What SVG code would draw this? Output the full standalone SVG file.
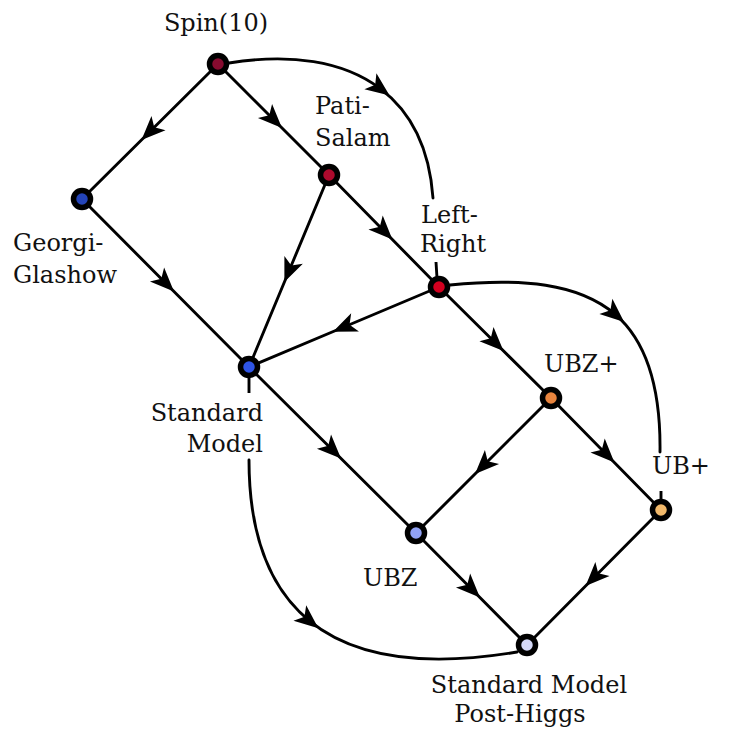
<svg xmlns="http://www.w3.org/2000/svg" width="732" height="730" viewBox="0 0 732 730">
<style>
.e{fill:none;stroke:#000;stroke-width:2.9;stroke-linecap:round;marker-mid:url(#arr)}
.s{fill:none;stroke:#000;stroke-width:2.9}
.n{stroke:#000;stroke-width:5.5}
.t{font-family:"DejaVu Serif","Liberation Serif",serif;font-size:24px;fill:#111}
</style>
<defs>
<marker id="arr" markerUnits="userSpaceOnUse" markerWidth="40" markerHeight="40" refX="-6" refY="0" orient="auto" overflow="visible">
<path d="M6 0 L-18 -10 L-12 0 L-18 10 Z" fill="#000"/>
</marker>
</defs>
<rect width="732" height="730" fill="#fff"/>
<g id="connectors">
<path class="e" d="M218 64 L150 131.5 L82 199"/>
<path class="e" d="M218 64 L273.5 119.5 L329 175"/>
<path class="e" d="M329 175 L384 231 L439 287"/>
<path class="e" d="M329 175 L289 271 L249 367"/>
<path class="e" d="M82 199 L165.5 283 L249 367"/>
<path class="e" d="M439 287 L344 327 L249 367"/>
<path class="e" d="M439 287 L495 342.5 L551 398"/>
<path class="e" d="M249 367 L332.5 450 L416 533"/>
<path class="e" d="M551 398 L483.5 465.5 L416 533"/>
<path class="e" d="M551 398 L606 454 L661 510"/>
<path class="e" d="M416 533 L471.5 589 L527 645"/>
<path class="e" d="M661 510 L594 577.5 L527 645"/>
<path class="e" d="M229 63 C290 53.1 343.2 60.75 380 88.4 C410.2 111.1 429.4 147.15 433 198"/>
<path class="s" d="M436 262 L437 278"/>
<path class="e" d="M450 285 C521.5 277.85 578.5 283.1 615 314.2 C644.8 339.7 660.9 382.5 660 452"/>
<path class="s" d="M661 491 L661 500"/>
<path class="e" d="M249 460 C249 529 266.75 585.75 309.1 620.6 C351.5 655.5 418.5 668.5 517 652"/>
<path class="s" d="M249 378 L249 393"/>
</g>
<g class="t">
<g id="spin10"><circle class="n" cx="218" cy="64" r="8.5" fill="#860b2f"/><text x="216" y="31" text-anchor="middle">Spin(10)</text></g>
<g id="pati-salam"><circle class="n" cx="329" cy="175" r="8.5" fill="#ad0a2d"/><text x="315" y="114">Pati-</text><text x="315" y="146">Salam</text></g>
<g id="left-right"><circle class="n" cx="439" cy="287" r="8.5" fill="#d2001f"/><text x="421" y="223">Left-</text><text x="420" y="252">Right</text></g>
<g id="georgi-glashow"><circle class="n" cx="82" cy="199" r="8.5" fill="#2444b8"/><text x="13" y="251">Georgi-</text><text x="13" y="283">Glashow</text></g>
<g id="standard-model"><circle class="n" cx="249" cy="367" r="8.5" fill="#2f55e6"/><text x="263" y="421" text-anchor="end">Standard</text><text x="263" y="452" text-anchor="end">Model</text></g>
<g id="ubz-plus"><circle class="n" cx="551" cy="398" r="8.5" fill="#e8843e"/><text x="544" y="372">UBZ+</text></g>
<g id="ub-plus"><circle class="n" cx="661" cy="510" r="8.5" fill="#f2b96b"/><text x="652" y="474">UB+</text></g>
<g id="ubz"><circle class="n" cx="416" cy="533" r="8.5" fill="#91a2f5"/><text x="363" y="586">UBZ</text></g>
<g id="post-higgs"><circle class="n" cx="527" cy="645" r="8.5" fill="#d5d9f8"/><text x="529" y="693" text-anchor="middle">Standard Model</text><text x="520" y="722" text-anchor="middle">Post-Higgs</text></g>
</g>
</svg>
